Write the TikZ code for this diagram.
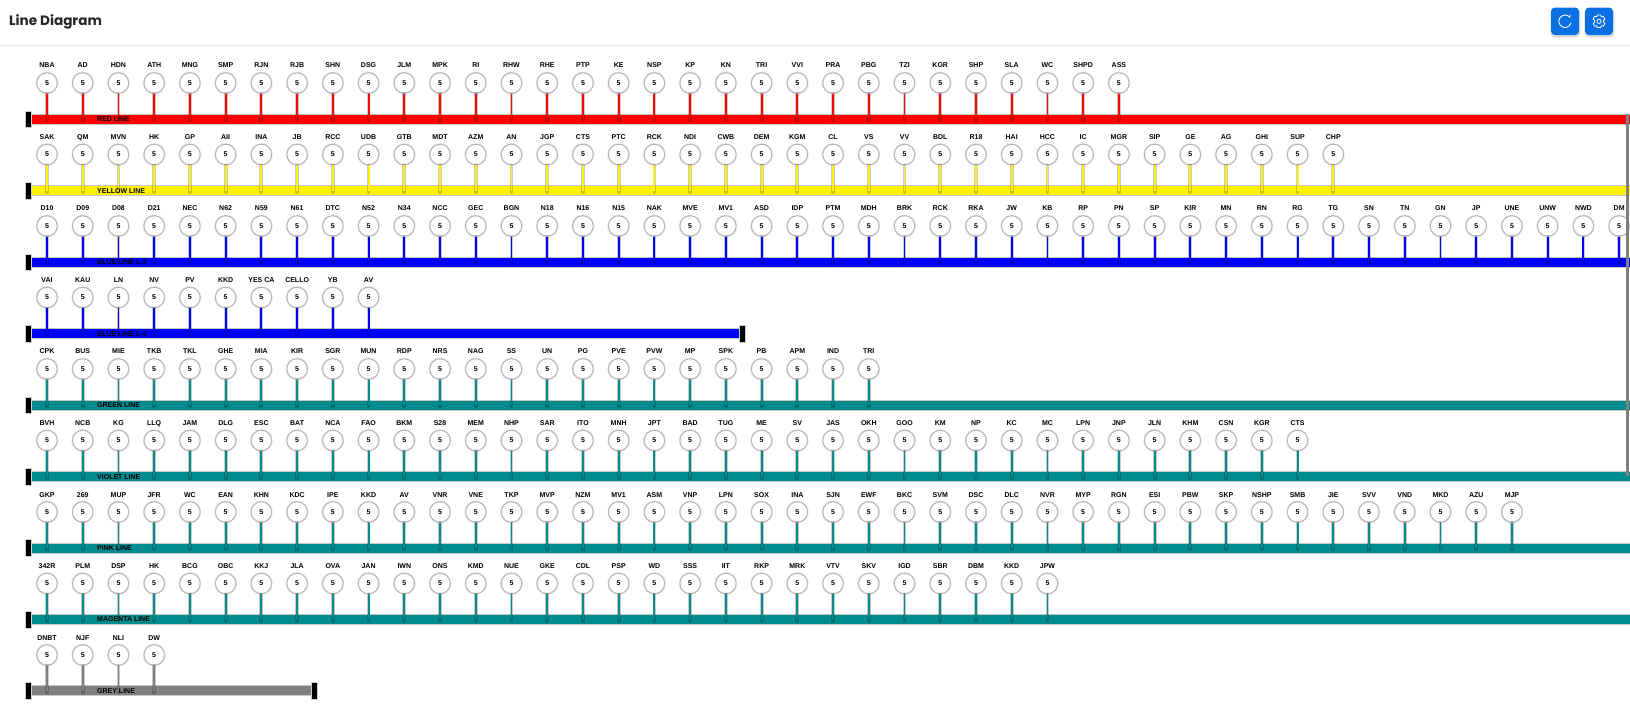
\documentclass[tikz,border=0pt]{standalone}
\usepackage{fontspec}
\setmainfont{Liberation Sans}
\newfontfamily\titlefont{Poppins}
\usetikzlibrary{calc}
\definecolor{teal1}{HTML}{008B8F}
\definecolor{btn}{HTML}{0A6FE0}
\definecolor{ring}{HTML}{B8B8B8}
\definecolor{grey1}{HTML}{808080}
\tikzset{
  station/.style={circle,draw=ring,line width=1.1pt,fill=white,minimum size=20.6pt,inner sep=0pt,
     font=\fontsize{7}{7}\selectfont\bfseries,preaction={draw=black!6,line width=2.4pt}},
  stationname/.style={inner sep=0pt,text height=5pt,text depth=0pt,font=\fontsize{7}{7}\selectfont\bfseries,text=black},
  linebar/.style={rectangle,draw=black!22,line width=.9pt,inner sep=0pt,minimum height=10pt,anchor=west},
  terminal/.style={rectangle,fill=black,draw=black!20,line width=.5pt,inner sep=0pt,minimum width=6.2pt,minimum height=16.6pt},
  stemhalo/.style={draw=black,opacity=.2,line width=3.8pt,line cap=round,shorten >=-1.5pt},
  stem/.style={line width=1.9pt},
  barname/.style={inner sep=0pt,anchor=west,text height=5pt,text depth=0pt,font=\fontsize{7}{7}\selectfont\bfseries,text=black},
  btnbox/.style={rectangle,rounded corners=4pt,fill=btn,minimum width=28pt,minimum height=27.5pt,inner sep=0pt},
  btnshadow/.style={rectangle,rounded corners=4.5pt,fill=black,opacity=.13,minimum width=30pt,minimum height=29.5pt,inner sep=0pt},
  icon/.style={draw=white,line width=.9pt,line cap=round,line join=round}
}
% #1 row index, #2 colour, #3 line name, #4 stations, #5 bar width
\newcommand{\linerow}[5]{%
  \pgfmathsetmacro{\by}{119.3+71.45*#1}
  \pgfmathsetmacro{\cy}{83+71.5*#1}
  \pgfmathsetmacro{\ly}{65.5+71.5*#1}
  \node[linebar,fill=#2,minimum width=#5pt] (bar#1) at (31,\by) {};
  \node[terminal] (tl#1) at (28.2,\by) {};
  \foreach \s [count=\i from 0] in {#4} {
    \pgfmathsetmacro{\xx}{47+35.73*\i}
    \node[stationname] (l#1-\i) at (\xx,\ly) {\s};
    \node[station] (s#1-\i) at (\xx,\cy) {5};
    \draw[stemhalo] (s#1-\i.south) -- (s#1-\i.south |- bar#1.center);
    \draw[stem,draw=#2] (s#1-\i.south) -- (s#1-\i.south |- bar#1.center);
  }
  \node[barname] (n#1) at (97,\by) {#3};
}
\begin{document}
\begin{tikzpicture}[x=1pt,y=-1pt]
\clip (0,0) rectangle (1630,708);
\fill[white] (0,0) rectangle (1630,708);
\node[inner sep=0pt,anchor=west,font=\fontsize{13.6}{16}\titlefont\bfseries,text=black!85] (title) at (9,22) {Line Diagram};
\coordinate (ruleL) at (0,45.3);
\coordinate (ruleR) at (1630,45.3);
\draw[draw=black!9,line width=.9pt] (ruleL) -- (ruleR);
% buttons
\node[btnshadow] (sh1) at (1565.3,23) {};
\node[btnshadow] (sh2) at (1599.3,23) {};
\node[btnbox] (b1) at (1565,21.3) {};
\node[btnbox] (b2) at (1599,21.3) {};
\draw[icon] ($(b1.center)+(4.8,-4.0)$) arc[start angle=-40,end angle=-345,radius=6.2];
\draw[icon,line width=.8pt] ($(b1.center)+(4.8,-4.0)$) -- ++(.4,-2.4);
% gear
\begin{scope}[shift={(b2.center)}]
  \draw[icon,line width=.8pt] (0,0) circle[radius=2.1];
  \draw[icon,line width=.8pt]
    (-1.7,-6.3) -- (1.7,-6.3) -- (2.3,-4.4) -- (4.2,-5) -- (5.9,-2.2) -- (4.5,-.9) -- (4.5,.9) -- (5.9,2.2)
    -- (4.2,5) -- (2.3,4.4) -- (1.7,6.3) -- (-1.7,6.3) -- (-2.3,4.4) -- (-4.2,5) -- (-5.9,2.2) -- (-4.5,.9)
    -- (-4.5,-.9) -- (-5.9,-2.2) -- (-4.2,-5) -- (-2.3,-4.4) -- cycle;
\end{scope}
\linerow{0}{red}{RED LINE}{NBA,AD,HDN,ATH,MNG,SMP,RJN,RJB,SHN,DSG,JLM,MPK,RI,RHW,RHE,PTP,KE,NSP,KP,KN,TRI,VVI,PRA,PBG,TZI,KGR,SHP,SLA,WC,SHPD,ASS}{1602}
\linerow{1}{yellow}{YELLOW LINE}{SAK,QM,MVN,HK,GP,AII,INA,JB,RCC,UDB,GTB,MDT,AZM,AN,JGP,CTS,PTC,RCK,NDI,CWB,DEM,KGM,CL,VS,VV,BDL,R18,HAI,HCC,IC,MGR,SIP,GE,AG,GHI,SUP,CHP}{1602}
\linerow{2}{blue}{BLUE LINE L-3}{D10,D09,D08,D21,NEC,N62,N59,N61,DTC,N52,N34,NCC,GEC,BGN,N18,N16,N15,NAK,MVE,MV1,ASD,IDP,PTM,MDH,BRK,RCK,RKA,JW,KB,RP,PN,SP,KIR,MN,RN,RG,TG,SN,TN,GN,JP,UNE,UNW,NWD,DM}{1602}
\linerow{3}{blue}{BLUE LINE L-4}{VAI,KAU,LN,NV,PV,KKD,YES CA,CELLO,YB,AV}{711}
\node[terminal] (tr3) at (742.3,333.65) {};
\linerow{4}{teal1}{GREEN LINE}{CPK,BUS,MIE,TKB,TKL,GHE,MIA,KIR,SGR,MUN,RDP,NRS,NAG,SS,UN,PG,PVE,PVW,MP,SPK,PB,APM,IND,TRI}{1602}
\linerow{5}{teal1}{VIOLET LINE}{BVH,NCB,KG,LLQ,JAM,DLG,ESC,BAT,NCA,FAO,BKM,S28,MEM,NHP,SAR,ITO,MNH,JPT,BAD,TUG,ME,SV,JAS,OKH,GOO,KM,NP,KC,MC,LPN,JNP,JLN,KHM,CSN,KGR,CTS}{1602}
\linerow{6}{teal1}{PINK LINE}{GKP,269,MUP,JFR,WC,EAN,KHN,KDC,IPE,KKD,AV,VNR,VNE,TKP,MVP,NZM,MV1,ASM,VNP,LPN,SOX,INA,SJN,EWF,BKC,SVM,DSC,DLC,NVR,MYP,RGN,ESI,PBW,SKP,NSHP,SMB,JIE,SVV,VND,MKD,AZU,MJP}{1602}
\linerow{7}{teal1}{MAGENTA LINE}{342R,PLM,DSP,HK,BCG,OBC,KKJ,JLA,OVA,JAN,IWN,ONS,KMD,NUE,GKE,CDL,PSP,WD,SSS,IIT,RKP,MRK,VTV,SKV,IGD,SBR,DBM,KKD,JPW}{1602}
\linerow{8}{grey1}{GREY LINE}{DNBT,NJF,NLI,DW}{283}
\node[terminal] (tr8) at (314,690.9) {};
% vertical link at the right edge
\coordinate (vt) at (1627.4,114.3);
\coordinate (vb) at (1627.4,475.5);
\draw[draw=grey1,line width=3pt] (vt) -- (vb);
\end{tikzpicture}
\end{document}
